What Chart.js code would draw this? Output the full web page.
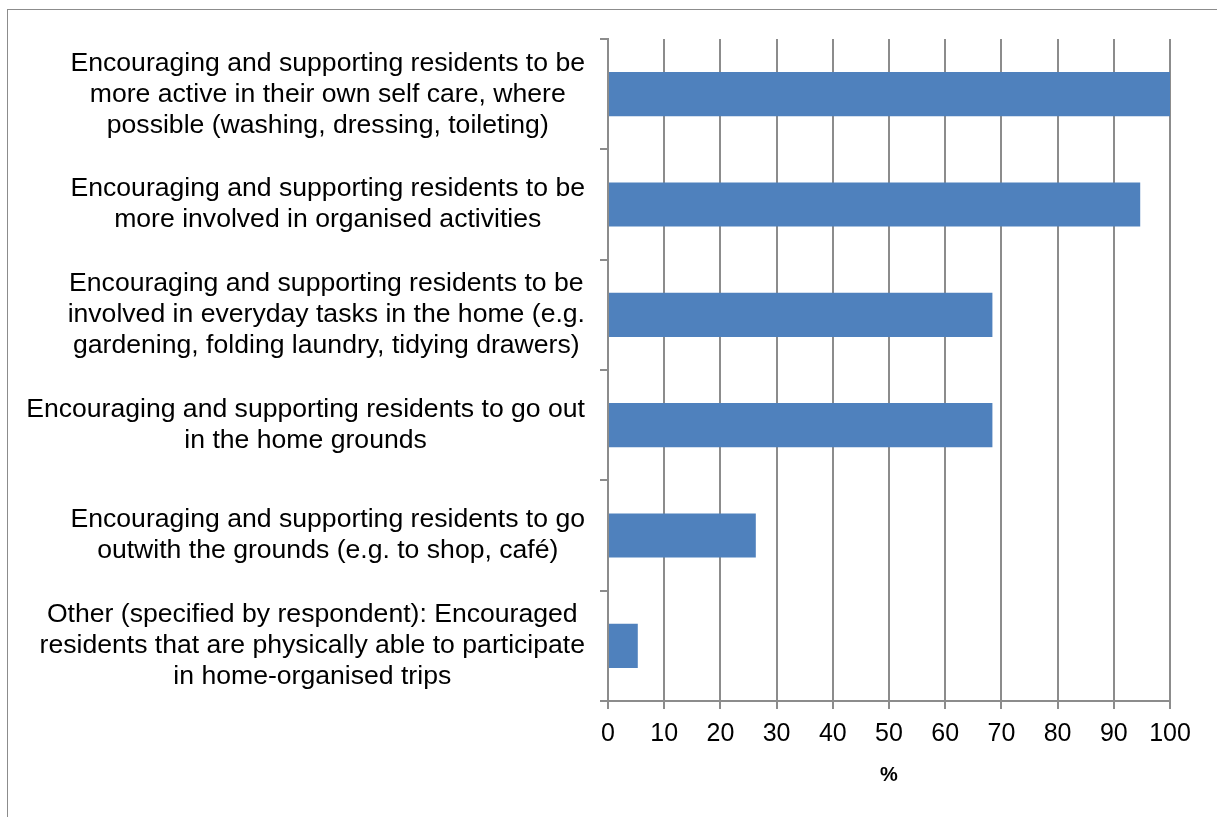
<!DOCTYPE html>
<html>
<head>
<meta charset="utf-8">
<script src="https://cdn.jsdelivr.net/npm/chart.js@4/dist/chart.umd.min.js"></script>
<style>
    html, body { margin: 0; padding: 0; background: #fff; overflow: hidden; }
    #wrap { position: relative; width: 1217px; height: 817px; }
    #frame { position: absolute; left: 7px; top: 9px; width: 1230px; height: 830px; border: 1.5px solid #8c8c8c; pointer-events: none; }
</style>
</head>
<body>
<div id="wrap">
    <canvas id="activityChart" width="1217" height="817"></canvas>
    <div id="frame"></div>
</div>
<script>
const categories = [
    ['Encouraging and supporting residents to be', 'more active in their own self care, where', 'possible (washing, dressing, toileting)'],
    ['Encouraging and supporting residents to be', 'more involved in organised activities'],
    ['Encouraging and supporting residents to be', 'involved in everyday tasks in the home (e.g.', 'gardening, folding laundry, tidying drawers)'],
    ['Encouraging and supporting residents to go out', 'in the home grounds'],
    ['Encouraging and supporting residents to go', 'outwith the grounds (e.g. to shop, café)'],
    ['Other (specified by respondent): Encouraged', 'residents that are physically able to participate', 'in home-organised trips']
];
const percentages = [100, 94.7, 68.4, 68.4, 26.3, 5.3];
const xTicks = [0, 10, 20, 30, 40, 50, 60, 70, 80, 90, 100];

const FONT = '"Liberation Sans", Arial, sans-serif';
const GRID = '#8c8c8c';
const LABEL_SIZE = 26.6;
const LINE_HEIGHT = 31;

// multi-line category labels: block right-aligned to the axis, lines centred inside it
const categoryLabels = {
    id: 'categoryLabels',
    afterDraw(chart) {
        const yScale = chart.scales.y;
        const ctx = chart.ctx;
        ctx.save();
        ctx.font = `${LABEL_SIZE}px ${FONT}`;
        ctx.fillStyle = '#000';
        ctx.textAlign = 'center';
        ctx.textBaseline = 'middle';
        categories.forEach((lines, i) => {
            const y = yScale.getPixelForTick(i);
            const blockWidth = Math.max(...lines.map((l) => ctx.measureText(l).width));
            const cx = yScale.right - 23 - blockWidth / 2;
            lines.forEach((line, j) => {
                ctx.fillText(line, cx, y + (j - (lines.length - 1) / 2) * LINE_HEIGHT);
            });
        });
        ctx.restore();
    }
};

const ctx = document.getElementById('activityChart').getContext('2d');
new Chart(ctx, {
    type: 'bar',
    data: {
        labels: categories,
        datasets: [{
            data: percentages,
            backgroundColor: '#4f81bd',
            borderWidth: 0,
            categoryPercentage: 1,
            barPercentage: 0.4
        }]
    },
    options: {
        indexAxis: 'y',
        responsive: false,
        animation: false,
        layout: { padding: { top: 39, right: 47, left: 0, bottom: 0 } },
        plugins: { legend: { display: false }, tooltip: { enabled: false } },
        scales: {
            x: {
                min: 0,
                max: 100,
                afterFit: (s) => { s.height = 116; },
                afterBuildTicks: (s) => { s.ticks = xTicks.map((v) => ({ value: v })); },
                grid: { color: GRID, lineWidth: 2, tickLength: 8 },
                border: { color: GRID, width: 2 },
                ticks: { color: '#000', font: { family: FONT, size: 25 }, padding: 10, maxRotation: 0 },
                title: {
                    display: true,
                    text: '%',
                    color: '#000',
                    font: { family: FONT, size: 20, weight: 'bold' },
                    padding: { top: 4, bottom: 30 }
                }
            },
            y: {
                afterFit: (s) => { s.width = 608; },
                grid: { color: GRID, lineWidth: 2, tickLength: 8, offset: true, drawOnChartArea: false },
                border: { color: GRID, width: 2 },
                ticks: { display: false }
            }
        }
    },
    plugins: [categoryLabels]
});
</script>
</body>
</html>
